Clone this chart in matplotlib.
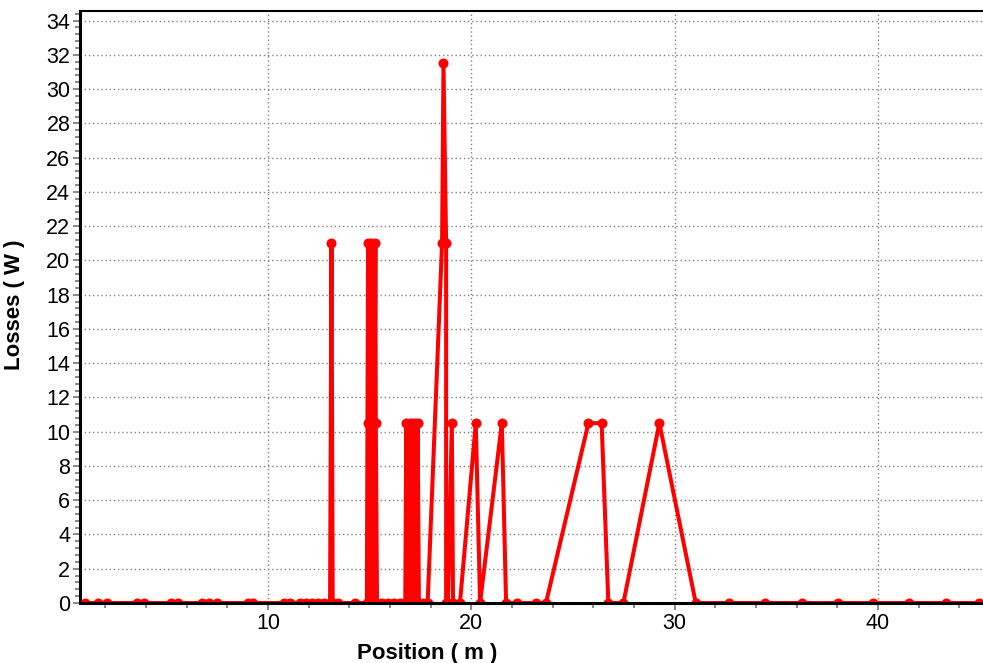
import matplotlib
matplotlib.use("Agg")
import matplotlib.pyplot as plt
from matplotlib.ticker import MultipleLocator

plt.rcParams['font.family'] = ['Liberation Sans', 'DejaVu Sans']

# Position along the run (m) and the losses computed at each node (W)
position_m = [
    1.0, 1.64, 2.08, 3.56, 3.9, 5.23, 5.57, 6.75, 7.1, 7.49,
    9.0, 9.25, 10.79, 11.08, 11.57, 11.87, 12.16, 12.46, 12.75,
    13.05, 13.12, 13.18, 13.44, 14.28,
    14.86, 14.92, 14.92, 14.98, 15.06, 15.1, 15.2, 15.28, 15.3, 15.36,
    15.6, 15.9, 16.2, 16.5,
    16.75, 16.8, 16.86, 16.96, 17.02, 17.1, 17.16, 17.25, 17.3, 17.36, 17.42,
    17.62, 17.85, 18.56, 18.63, 18.76, 18.76, 18.85,
    19.04, 19.1, 19.44, 20.22, 20.43, 21.5, 21.71, 22.25, 23.17, 23.67,
    25.76, 26.41, 26.74, 27.48, 29.25,
    31.04, 32.68, 34.45, 36.27, 38.04, 39.76, 41.53, 43.35, 44.97,
]
losses_w = [
    0, 0, 0, 0, 0, 0, 0, 0, 0, 0,
    0, 0, 0, 0, 0, 0, 0, 0, 0,
    0, 21, 0, 0, 0,
    0, 21, 10.5, 0, 21, 10.5, 0, 21, 10.5, 0,
    0, 0, 0, 0,
    0, 10.5, 0, 10.5, 0, 10.5, 0, 10.5, 0, 10.5, 0,
    0, 0, 21, 31.5, 21, 0, 0,
    10.5, 0, 0, 10.5, 0, 10.5, 0, 0, 0, 0,
    10.5, 10.5, 0, 0, 10.5,
    0, 0, 0, 0, 0, 0, 0, 0, 0,
]

x_range = (0.75, 45.17)
y_range = (0, 34.58)

fig = plt.figure(figsize=(9.83, 6.63), dpi=100)
ax = fig.add_axes([0.0814, 0.0905, 0.9186, 0.8934])

ax.plot(position_m, losses_w, color='#ff0000', linewidth=2.9,
        marker='o', markersize=6.2, solid_joinstyle='round', zorder=3)

ax.set_xlim(*x_range)
ax.set_ylim(*y_range)

ax.xaxis.set_major_locator(MultipleLocator(10))
ax.xaxis.set_minor_locator(MultipleLocator(2))
ax.yaxis.set_major_locator(MultipleLocator(2))
ax.yaxis.set_minor_locator(MultipleLocator(0.4))

ax.grid(True, which='major', color='#808080', linestyle=(0, (1, 2)), linewidth=1.0)

ax.tick_params(which='both', direction='out', color='#808080', width=1.3,
               labelsize=15.5, labelcolor='black', pad=2)
ax.tick_params(which='major', length=5)
ax.tick_params(which='minor', length=3.5)

ax.spines['right'].set_visible(False)
ax.spines['left'].set_linewidth(2.2)
ax.spines['top'].set_linewidth(1.5)
ax.spines['bottom'].set_linewidth(2.2)
ax.spines['bottom'].set_linestyle((0, (1.2, 0.6)))
ax.spines['bottom'].set_zorder(5)

ax.set_xlabel('Position ( m )', fontsize=16, fontweight='bold')
ax.set_ylabel('Losses ( W )', fontsize=16, fontweight='bold')
ax.xaxis.set_label_coords(0.385, -0.068)
ax.yaxis.set_label_coords(-0.061, 0.503)

fig.savefig('out.png', dpi=100)
